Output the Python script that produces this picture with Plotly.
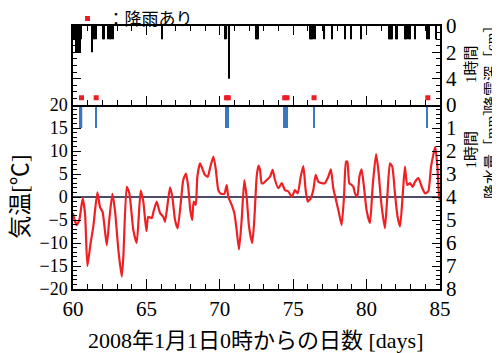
import plotly.graph_objects as go

# ---------------- data ----------------
temp_days = [60.0, 60.02, 60.25, 60.43, 60.66, 60.82, 60.98, 61.2, 61.38, 61.66, 61.84,
             62.02, 62.3, 62.47, 62.68, 62.86, 63.09, 63.32, 63.43, 63.66, 63.84,
             64.11, 64.34, 64.61, 64.79, 65.0, 65.13, 65.36, 65.5, 65.7, 65.93,
             66.15, 66.27, 66.61, 66.77, 66.95, 67.13, 67.36, 67.51, 67.7, 67.85,
             67.99, 68.12, 68.22, 68.36, 68.47, 68.65, 68.81, 68.99, 69.18, 69.33,
             69.56, 69.72, 69.9, 70.08, 70.31, 70.47, 70.58, 70.81, 70.99, 71.15,
             71.31, 71.49, 71.67, 71.83, 71.99, 72.21, 72.35, 72.51, 72.63, 72.74,
             72.85, 72.97, 73.2, 73.42, 73.6, 73.76, 73.99, 74.22, 74.44, 74.67,
             74.9, 75.12, 75.31, 75.51, 75.69, 75.85, 75.99, 76.19, 76.37, 76.53,
             76.71, 76.94, 77.16, 77.39, 77.57, 77.73, 77.92, 78.12, 78.3, 78.46,
             78.6, 78.69, 78.82, 78.99, 79.1, 79.21, 79.37, 79.51, 79.66, 79.82,
             80.0, 80.23, 80.41, 80.64, 80.8, 80.96, 81.1, 81.25, 81.41, 81.59,
             81.75, 81.93, 82.11, 82.28, 82.45, 82.61, 82.77, 82.96, 83.14, 83.3,
             83.53, 83.76, 83.98, 84.2, 84.39, 84.54, 84.68, 84.82, 84.95, 85.0]
temp_vals = [-3.5, -3.9, -6.1, -5.0, -0.3, -3.6, -15.0, -10.0, -6.5, 1.0, -2.2,
             -3.3, -10.5, -5.0, 0.7, -2.9, -11.5, -17.3, -13.0, 2.2, 0.8,
             -7.2, -10.0, 1.4, -1.0, -7.4, -4.3, -4.6, -3.0, -1.0, -3.5,
             -4.3, -5.4, 2.1, 0.0, -5.0, -6.8, -0.7, 3.7, 5.1, 2.2,
             -2.9, -5.0, -1.0, -1.7, 4.4, 7.3, 6.2, 4.8, 4.4, 6.2,
             8.8, 6.2, 1.5, 0.7, 0.7, 2.6, 0.0, -1.7, -3.5, -7.2,
             -11.4, -5.0, 3.7, 0.0, -6.4, -10.0, -5.0, 4.4, 6.8, 5.9,
             3.0, 3.0, 3.7, 4.4, 5.9, 3.7, 1.9, 3.0, 1.5, 1.2,
             0.0, 1.5, 0.8, 4.4, 6.7, 1.5, -1.0, -0.3, 1.5, 4.8,
             3.3, 3.0, 3.0, 4.4, 6.0, 1.9, -0.7, -3.5, -6.1, 0.0,
             7.7, 7.7, 3.0, 2.6, 2.2, 0.8, 0.0, 4.4, 6.0, 2.2,
             -2.9, -5.7, 2.2, 9.3, 5.9, 0.0, -3.9, -6.8, 0.0, 7.3,
             6.6, 0.8, -4.3, -6.4, 0.0, 6.6, 2.6, 3.0, 2.2, 3.3,
             4.1, 2.2, 0.8, 1.2, 6.6, 9.1, 10.9, 6.6, -0.3, -0.7]

snow_days = [60.04, 60.08, 60.13, 60.17, 60.21, 60.25, 60.29, 60.33, 60.38, 60.42, 60.46, 60.5, 60.54,
             61.29, 61.33, 61.42, 61.46, 61.54,
             62.04, 62.13, 62.38, 62.5, 62.58, 62.71,
             66.08, 70.38, 70.46, 70.63,
             72.46, 72.54, 72.63,
             76.13, 76.21, 76.29, 76.38, 76.46,
             77.13, 77.67, 78.54, 78.96, 79.63,
             81.5, 81.58, 81.67, 81.75, 82.0, 82.08,
             82.63, 82.71, 82.79, 82.88, 82.96, 83.3,
             84.13, 84.25, 84.75]
snow_depth = [1, 1, 1, 1, 2, 2, 2, 1, 2, 2, 1, 2, 1,
              2, 1, 1, 1, 1,
              1, 1, 1, 1, 1, 1,
              1, 1, 1, 4,
              1, 1, 1,
              1, 1, 1, 1, 1,
              1, 1, 1, 1, 1,
              1, 1, 1, 1, 1, 1,
              1, 1, 1, 1, 1, 1,
              1, 1, 1]

precip_days = [60.46, 60.5, 60.54, 60.58, 61.58, 70.42, 70.5, 70.58,
               74.42, 74.5, 74.58, 76.42, 84.13]
precip_mm = [1.0, 1.0, 1.0, 1.0, 1.0, 1.0, 1.0, 1.0,
             1.0, 1.0, 1.0, 1.0, 1.0]

rain_days = [60.58, 61.58, 70.46, 70.58, 74.42, 74.58, 76.42, 84.17]

x_ticks = [60, 65, 70, 75, 80, 85]
temp_ticks = [-20, -15, -10, -5, 0, 5, 10, 15, 20]
precip_ticks = [0, 1, 2, 3, 4, 5, 6, 7, 8]
snow_ticks = [0, 2, 4]

# ---------------- figure ----------------
NUM = "Liberation Serif, Times New Roman, serif"
SERIF = "Liberation Serif, Noto Sans CJK JP, serif"
RED = "#ee2024"
BLUE = "#3b78c2"
split = 184 / 263

fig = go.Figure()

fig.add_trace(go.Scatter(x=temp_days, y=temp_vals, mode="lines",
                         line=dict(color=RED, width=2.2, shape="spline", smoothing=0.5),
                         xaxis="x", yaxis="y", showlegend=False))
fig.add_trace(go.Bar(x=precip_days, y=precip_mm, width=0.1, base=0,
                     marker=dict(color=BLUE, line=dict(width=0)),
                     xaxis="x", yaxis="y2", showlegend=False))
fig.add_trace(go.Bar(x=snow_days, y=snow_depth, width=0.08, base=0,
                     marker=dict(color="black", line=dict(width=0)),
                     xaxis="x2", yaxis="y3", showlegend=False))
fig.add_trace(go.Scatter(x=rain_days, y=[5.45] * len(rain_days), mode="markers",
                         marker=dict(symbol="square", size=5, color="#ee1c24"),
                         xaxis="x2", yaxis="y3", name="：降雨あり", showlegend=True))

fig.add_shape(type="line", xref="x", yref="y", x0=60, x1=85, y0=0, y1=0,
              line=dict(color="#12123a", width=1.3), layer="below")

axis_common = dict(showline=True, linecolor="black", linewidth=1.5,
                   ticks="inside", tickcolor="black", tickwidth=1.2,
                   showgrid=False, zeroline=False)

fig.update_layout(
    width=500, height=353,
    # page body has an 8px margin; margins compensate so the plot sits at 73..440 x 26..289
    margin=dict(l=65, r=68, t=18, b=72, autoexpand=False),
    paper_bgcolor="white", plot_bgcolor="white",
    font=dict(family=SERIF, color="black"),
    barmode="overlay",
    xaxis=dict(domain=[0, 1], anchor="y", range=[60, 85], tickvals=x_ticks,
               ticklen=10, minor=dict(dtick=1, ticklen=5, ticks="inside", tickcolor="black"),
               tickfont=dict(size=21, family=NUM), **axis_common),
    xaxis2=dict(domain=[0, 1], anchor="y3", range=[60, 85], tickvals=x_ticks,
                ticklen=9, showticklabels=False, mirror="allticks",
                minor=dict(dtick=1, ticklen=5, ticks="inside", tickcolor="black"),
                **axis_common),
    xaxis3=dict(overlaying="x", anchor="y", side="top", range=[60, 85], tickvals=x_ticks,
                ticklen=9, showticklabels=False, showline=False, ticks="inside",
                tickcolor="black", tickwidth=1.2, showgrid=False, zeroline=False),
    yaxis=dict(domain=[0, split], anchor="x", range=[-20, 20], tickvals=temp_ticks,
               ticklen=8, minor=dict(dtick=1, ticklen=4, ticks="inside", tickcolor="black"),
               tickfont=dict(size=18, family=NUM), **axis_common),
    yaxis2=dict(overlaying="y", anchor="x", side="right", range=[8, 0], tickvals=precip_ticks,
                ticklen=8, minor=dict(dtick=0.2, ticklen=4, ticks="inside", tickcolor="black"),
                tickfont=dict(size=21, family=NUM), **axis_common),
    yaxis3=dict(domain=[split, 1], anchor="x2", side="right", range=[6, 0], tickvals=snow_ticks,
                ticklen=8, mirror="allticks",
                minor=dict(dtick=0.5, ticklen=4, ticks="inside", tickcolor="black"),
                tickfont=dict(size=21, family=NUM), **axis_common),
    legend=dict(x=-0.015, xanchor="left", y=1.095, yanchor="top", orientation="h",
                font=dict(size=17, family=SERIF), bgcolor="rgba(0,0,0,0)", borderwidth=0),
)

fig.add_annotation(text="気温[℃]", xref="paper", yref="paper", x=-0.145, y=split / 2,
                   xanchor="center", yanchor="middle",
                   textangle=-90, showarrow=False, font=dict(size=23, family=SERIF))
fig.add_annotation(text="2008年1月1日0時からの日数 [days]", xref="paper", yref="paper",
                   x=0.496, y=-0.194, xanchor="center", yanchor="middle",
                   showarrow=False, font=dict(size=22, family=SERIF))
fig.add_annotation(text="1時間<br>降雪深［cm］", xref="paper", yref="paper",
                   x=(481 - 73) / 367, y=(289 - 65) / 263, xanchor="center", yanchor="middle",
                   textangle=-90, showarrow=False, font=dict(size=15, family=SERIF))
fig.add_annotation(text="1時間<br>降水量［mm］", xref="paper", yref="paper",
                   x=(481 - 73) / 367, y=(289 - 150) / 263, xanchor="center", yanchor="middle",
                   textangle=-90, showarrow=False, font=dict(size=15, family=SERIF))

fig.write_html("out.html")
